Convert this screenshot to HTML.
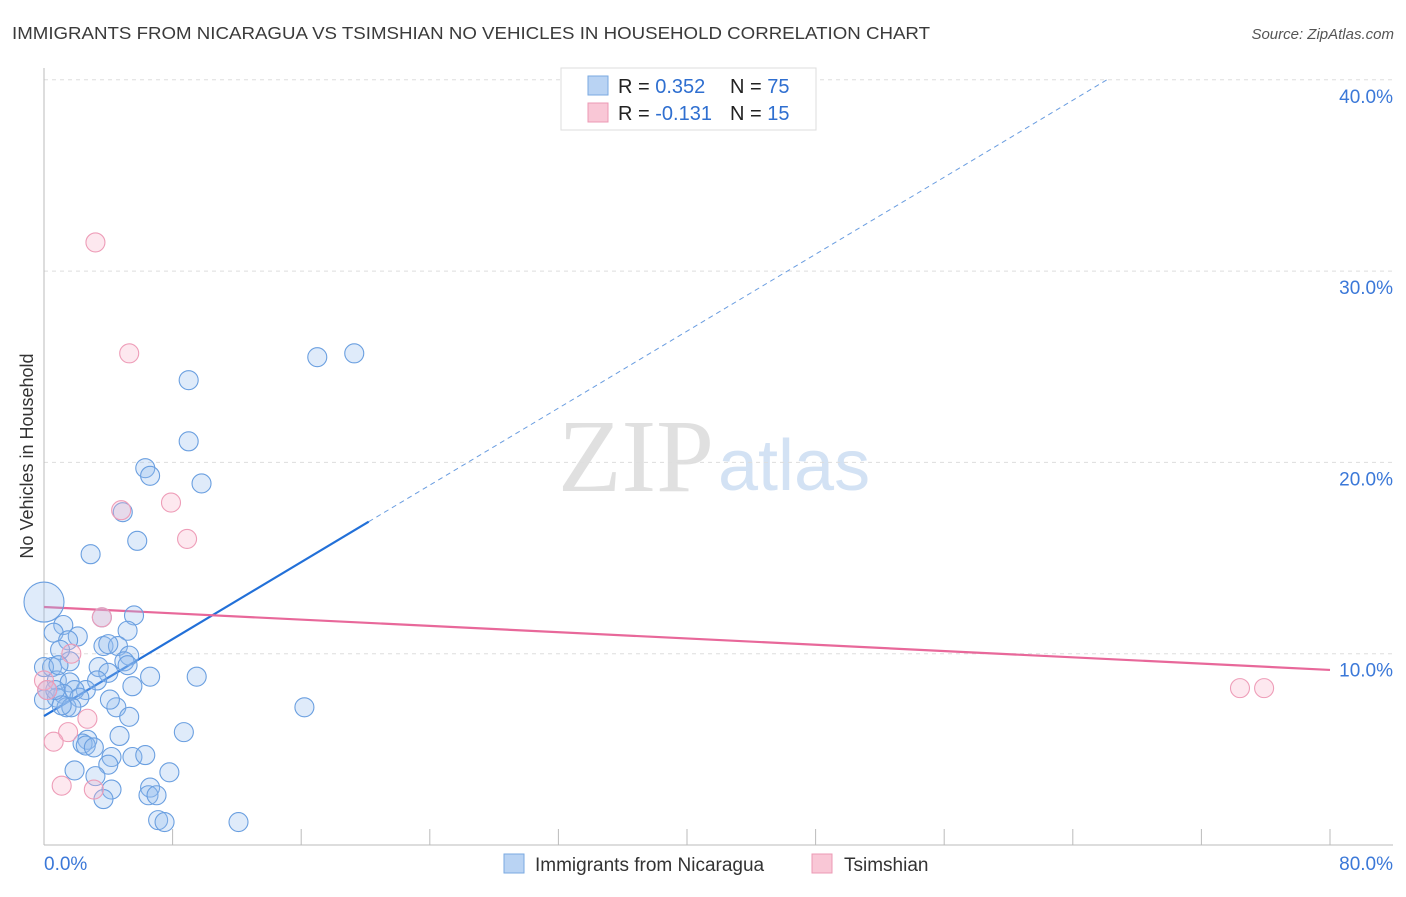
<!DOCTYPE html>
<html><head><meta charset="utf-8"><style>
body{margin:0;background:#fff;font-family:"Liberation Sans",sans-serif;}
svg text{font-family:"Liberation Sans",sans-serif;}
</style></head><body>
<svg width="1406" height="892" viewBox="0 0 1406 892">
<text x="12" y="39" font-size="17.5" fill="#3a3a3a" textLength="918" lengthAdjust="spacingAndGlyphs">IMMIGRANTS FROM NICARAGUA VS TSIMSHIAN NO VEHICLES IN HOUSEHOLD CORRELATION CHART</text>
<text x="1394" y="39" font-size="15" fill="#555" font-style="italic" text-anchor="end">Source: ZipAtlas.com</text>
<g>
<text x="714" y="491" font-size="104" fill="#e0e0e0" text-anchor="end" style="font-family:'Liberation Serif',serif">ZIP</text>
<text x="718" y="490" font-size="72" fill="#d3e2f4">atlas</text>
</g>
<g id="grid"></g>
<g id="axes"></g>
<g id="lines"></g>
<g id="points"></g>
<text x="33" y="456" font-size="18" fill="#333" text-anchor="middle" transform="rotate(-90 33 456)">No Vehicles in Household</text>
<g>
<rect x="561" y="68" width="255" height="62" fill="#fff" stroke="#ddd"/>
<rect x="588" y="76" width="20" height="19" fill="#b9d3f3" stroke="#7aa9e2"/>
<rect x="588" y="103" width="20" height="19" fill="#f9c7d6" stroke="#ec9ab4"/>
<text x="618" y="93" font-size="20" fill="#222">R = <tspan fill="#2f6fd0">0.352</tspan></text>
<text x="730" y="93" font-size="20" fill="#222">N = <tspan fill="#2f6fd0">75</tspan></text>
<text x="618" y="120" font-size="20" fill="#222">R = <tspan fill="#2f6fd0">-0.131</tspan></text>
<text x="730" y="120" font-size="20" fill="#222">N = <tspan fill="#2f6fd0"> 15</tspan></text>
</g>
<g>
<rect x="504" y="854" width="20" height="19" fill="#b9d3f3" stroke="#7aa9e2"/>
<text x="535" y="871" font-size="19" fill="#333">Immigrants from Nicaragua</text>
<rect x="812" y="854" width="20" height="19" fill="#f9c7d6" stroke="#ec9ab4"/>
<text x="844" y="871" font-size="19" fill="#333">Tsimshian</text>
</g>
</svg>
<script>
const yTicks=[10,20,30,40];
const yTickLabels=["10.0%","20.0%","30.0%","40.0%"];
const xTickCount=10;
const blueX=[17.0,19.3,9.0,9.0,6.3,6.6,9.8,4.9,5.8,2.9,5.6,3.6,1.2,0.6,2.1,1.5,5.2,3.7,4.6,5.3,3.4,5.0,5.2,0.5,1.6,0,4.0,6.6,9.5,0.8,1.6,3.3,2.6,1.9,1.2,5.5,2.2,0.8,0,1.4,1.7,16.2,4.5,5.3,8.7,4.7,2.7,2.4,2.6,3.1,4.2,5.5,6.3,4.0,1.9,3.2,7.8,6.6,4.2,6.5,7.0,3.7,7.1,7.5,12.1,1.1,0.7,0.2,1.0,0.9,4.0,4.1];
const blueY=[25.5,25.7,24.3,21.1,19.7,19.3,18.9,17.4,15.9,15.2,12.0,11.9,11.5,11.1,10.9,10.7,11.2,10.4,10.4,9.9,9.3,9.6,9.4,9.3,9.6,9.3,9.0,8.8,8.8,8.6,8.5,8.6,8.1,8.1,7.9,8.3,7.7,7.7,7.6,7.2,7.2,7.2,7.2,6.7,5.9,5.7,5.5,5.3,5.2,5.1,4.6,4.6,4.7,4.2,3.9,3.6,3.8,3.0,2.9,2.6,2.6,2.4,1.3,1.2,1.2,7.3,8.1,8.1,10.2,9.4,10.5,7.6];
const bigX=[0];const bigY=[12.7];
const pinkX=[3.2,5.3,7.9,4.8,8.9,3.6,1.7,0,0.2,2.7,1.5,0.6,1.1,3.1,74.4,75.9];
const pinkY=[31.5,25.7,17.9,17.5,16.0,11.9,10.0,8.6,8.1,6.6,5.9,5.4,3.1,2.9,8.2,8.2];
const blueFit=[6.74,0.503]; const blueSolidEnd=20.2;
const pinkFit=[12.44,-0.0411];
const X0=44,X1=1330,Y0=845,PY=19.13;
const sx=v=>X0+v*(X1-X0)/80, sy=v=>Y0-v*PY;
const NS="http://www.w3.org/2000/svg";
function mk(parent,tag,attrs){const e=document.createElementNS(NS,tag);for(const k in attrs)e.setAttribute(k,attrs[k]);document.getElementById(parent).appendChild(e);return e;}
yTicks.forEach((t,i)=>{
 const l=mk('grid','line',{x1:X0,x2:1393,y1:sy(t),y2:sy(t),stroke:'#ddd','stroke-dasharray':'4,4'});
 
 
 const tx=mk('grid','text',{x:1393,y:sy(t)+23,'font-size':19,fill:'#3b78d8','text-anchor':'end'});
 tx.textContent=yTickLabels[i];
 
 
});
const ax=mk('axes','line',{x1:X0,x2:X0,y1:68,y2:Y0,stroke:'#bbb'});


const bx=mk('axes','line',{x1:X0,x2:1393,y1:Y0,y2:Y0,stroke:'#bbb'});


for(let i=1;i<=xTickCount;i++){const t=mk('axes','line',{x1:sx(i*8),x2:sx(i*8),y1:829,y2:Y0,stroke:'#bbb'});
 
 }
const xl0=mk('axes','text',{x:44,y:870,'font-size':19,fill:'#3b78d8'});xl0.textContent='0.0%';


const xl1=mk('axes','text',{x:1393,y:870,'font-size':19,fill:'#3b78d8','text-anchor':'end'});xl1.textContent='80.0%';


function addPt(x,y,r,fill,stroke,name){const c=mk('points','circle',{cx:sx(x),cy:sy(y),r:r,fill:fill,stroke:stroke,'stroke-width':1.1});
 
 }
blueX.forEach((x,i)=>addPt(x,blueY[i],9.5,'rgba(150,190,240,0.3)','#6a9fe0','nicaragua-point'));
bigX.forEach((x,i)=>addPt(x,bigY[i],20,'rgba(150,190,240,0.3)','#6a9fe0','nicaragua-point'));
pinkX.forEach((x,i)=>addPt(x,pinkY[i],9.5,'rgba(248,180,202,0.3)','#ee9db8','tsimshian-point'));
const bl=mk('lines','line',{x1:sx(0),y1:sy(blueFit[0]),x2:sx(blueSolidEnd),y2:sy(blueFit[0]+blueFit[1]*blueSolidEnd),stroke:'#2270d8','stroke-width':2.2});


const xe=(40-blueFit[0])/blueFit[1];
const bd=mk('lines','line',{x1:sx(blueSolidEnd),y1:sy(blueFit[0]+blueFit[1]*blueSolidEnd),x2:sx(xe),y2:sy(blueFit[0]+blueFit[1]*xe),stroke:'#6a9de0','stroke-width':1,'stroke-dasharray':'5,4'});


const pl=mk('lines','line',{x1:sx(0),y1:sy(pinkFit[0]),x2:sx(80),y2:sy(pinkFit[0]+pinkFit[1]*80),stroke:'#e8689a','stroke-width':2.2});


</script>
</body></html>
